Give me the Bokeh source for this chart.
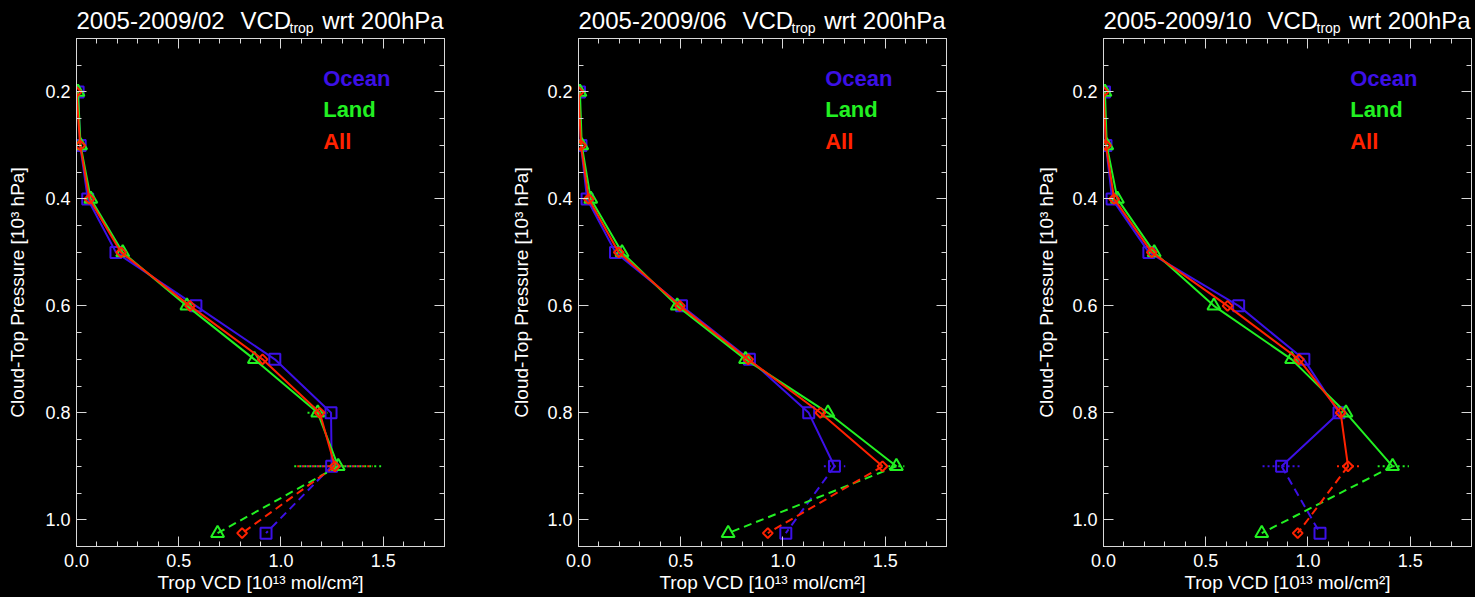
import math
from bokeh.plotting import figure
from bokeh.models import (Range1d, LinearAxis, FixedTicker, PrintfTickFormatter,
                          Label, GlobalInlineStyleSheet)
from bokeh.layouts import row, column
from bokeh.core.properties import value
from bokeh.embed import file_html
from bokeh.resources import INLINE

# ---------------- data ----------------
MONTHS = ["02", "06", "10"]
PRESSURE = [0.2, 0.3, 0.4, 0.5, 0.6, 0.7, 0.8, 0.9]   # 10^3 hPa
PRESSURE_BOTTOM = 1.025

OCEAN_02 = [0.008, 0.018, 0.055, 0.193, 0.584, 0.97, 1.245, 1.248]
LAND_02 = [0.007, 0.02, 0.07, 0.226, 0.54, 0.87, 1.18, 1.28]
ALL_02 = [0.0, 0.018, 0.063, 0.218, 0.555, 0.91, 1.19, 1.264]
BOTTOM_02 = {"Ocean": 0.927, "Land": 0.69, "All": 0.81}

OCEAN_06 = [0.005, 0.012, 0.042, 0.181, 0.504, 0.836, 1.126, 1.252]
LAND_06 = [0.007, 0.016, 0.06, 0.213, 0.483, 0.817, 1.22, 1.555]
ALL_06 = [0.0, 0.012, 0.05, 0.197, 0.496, 0.83, 1.183, 1.487]
BOTTOM_06 = {"Ocean": 1.014, "Land": 0.732, "All": 0.926}

OCEAN_10 = [0.005, 0.012, 0.042, 0.222, 0.661, 0.98, 1.152, 0.871]
LAND_10 = [0.007, 0.016, 0.068, 0.248, 0.54, 0.92, 1.186, 1.414]
ALL_10 = [0.0, 0.012, 0.052, 0.236, 0.607, 0.956, 1.16, 1.196]
BOTTOM_10 = {"Ocean": 1.059, "Land": 0.774, "All": 0.95}

# horizontal (dotted) error ranges: [pressure, low, high]
ERR_02 = {"Ocean": [[0.9, 1.10, 1.40]], "Land": [[0.9, 1.065, 1.49], [0.8, 1.13, 1.23]],
          "All": [[0.9, 1.08, 1.45]]}
ERR_06 = {"Ocean": [[0.9, 1.20, 1.305]], "Land": [[0.9, 1.515, 1.594]], "All": []}
ERR_10 = {"Ocean": [[0.9, 0.778, 0.966]], "Land": [[0.9, 1.341, 1.494]],
          "All": [[0.9, 1.142, 1.25]]}

X_MAJOR = [0.0, 0.5, 1.0, 1.5]
X_MINOR = [round(0.1 * i, 2) for i in range(0, 19)]
Y_MAJOR = [0.2, 0.4, 0.6, 0.8, 1.0]
Y_MINOR = [round(0.1 + 0.05 * i, 3) for i in range(0, 20)]

SERIES = ["Ocean", "Land", "All"]
COLORS = {"Ocean": "#3c10e6", "Land": "#22f022", "All": "#ff2200"}

TITLE_DATE = "2005-2009/{m}"
TITLE_VCD = "VCD"
TITLE_SUB = "trop"
TITLE_TAIL = "wrt 200hPa"
XLABEL = "Trop VCD [10¹³ mol/cm²]"
YLABEL = "Cloud-Top Pressure [10³ hPa]"

PANELS = [
    ("02", {"Ocean": OCEAN_02, "Land": LAND_02, "All": ALL_02}, BOTTOM_02, ERR_02),
    ("06", {"Ocean": OCEAN_06, "Land": LAND_06, "All": ALL_06}, BOTTOM_06, ERR_06),
    ("10", {"Ocean": OCEAN_10, "Land": LAND_10, "All": ALL_10}, BOTTOM_10, ERR_10),
]

# ---------------- layout ----------------
FW, FH = 368, 508
HEAD_H = 38
X0, X1 = 0.0, 1.8
YB, YT = 1.05, 0.1
PXX = FW / (X1 - X0)
PXY = FH / (YB - YT)
BORDERS = [(76, 56), (78, 80), (77, 3)]
YLABEL_STANDOFF = [14, 12, 12]
FONT = "Liberation Sans"
AX_COLOR = "#d8d8d8"
TXT = "#ffffff"
TOTAL_W = sum(l + FW + r for l, r in BORDERS)
BASE_SHIFT = 0.35   # alphabetic-baseline correction (em)


def style_axis(ax, major, minor, labels):
    ax.ticker = FixedTicker(ticks=major, minor_ticks=minor)
    ax.axis_line_color = AX_COLOR
    ax.axis_line_width = 1
    ax.major_tick_line_color = AX_COLOR
    ax.minor_tick_line_color = AX_COLOR
    ax.major_tick_in = 10
    ax.major_tick_out = 0
    ax.minor_tick_in = 5
    ax.minor_tick_out = 0
    ax.major_label_text_font = FONT
    ax.major_label_text_color = TXT
    ax.axis_label_text_font = FONT
    ax.axis_label_text_font_size = "19px"
    ax.axis_label_text_font_style = "normal"
    ax.axis_label_text_color = TXT
    if labels:
        ax.formatter = PrintfTickFormatter(format="%.1f")
        ax.major_label_text_font_size = "18px"
    else:
        ax.formatter = PrintfTickFormatter(format="")
        ax.major_label_text_font_size = "0px"
        ax.major_label_standoff = 0


# header strip holding the panel titles
head = figure(frame_width=TOTAL_W, frame_height=HEAD_H, x_range=Range1d(0, TOTAL_W),
              y_range=Range1d(HEAD_H, 0), output_backend="svg", toolbar_location=None,
              min_border=0, x_axis_location=None, y_axis_location=None,
              background_fill_color="#000000", border_fill_color="#000000",
              outline_line_color=None)
head.grid.visible = False

figs = []
left_edge = 0
for i, (month, vals, bottom, errs) in enumerate(PANELS):
    bl, br = BORDERS[i]
    fl = left_edge + bl
    left_edge += bl + FW + br

    yb = 28 - BASE_SHIFT * 24
    head.text(x=[fl, fl + 164, fl + 245.7], y=[yb, yb, yb],
              text=[TITLE_DATE.format(m=month), TITLE_VCD, TITLE_TAIL],
              text_font=value(FONT), text_font_size=value("24px"), text_color=TXT,
              text_baseline="alphabetic", text_align="left")
    head.text(x=[fl + 213], y=[32.5 - BASE_SHIFT * 14], text=[TITLE_SUB],
              text_font=value(FONT), text_font_size=value("14px"), text_color=TXT,
              text_baseline="alphabetic", text_align="left")

    p = figure(frame_width=FW, frame_height=FH, x_range=Range1d(X0, X1),
               y_range=Range1d(YB, YT), output_backend="svg", toolbar_location=None,
               min_border_left=bl, min_border_right=br, min_border_top=0,
               min_border_bottom=51, background_fill_color="#000000",
               border_fill_color="#000000", outline_line_color=AX_COLOR)
    p.grid.visible = False
    style_axis(p.xaxis[0], X_MAJOR, X_MINOR, True)
    p.xaxis[0].major_label_standoff = 7
    p.xaxis[0].axis_label = XLABEL
    p.xaxis[0].axis_label_standoff = 2
    style_axis(p.yaxis[0], Y_MAJOR, Y_MINOR, True)
    p.yaxis[0].major_label_standoff = 6
    p.yaxis[0].axis_label = YLABEL
    p.yaxis[0].axis_label_standoff = YLABEL_STANDOFF[i]
    top = LinearAxis()
    style_axis(top, X_MAJOR, X_MINOR, False)
    p.add_layout(top, "above")
    right = LinearAxis()
    style_axis(right, Y_MAJOR, Y_MINOR, False)
    p.add_layout(right, "right")

    # error bars (dotted)
    for s in SERIES:
        e = errs[s]
        if e:
            p.segment(x0=[r[1] for r in e], y0=[r[0] for r in e],
                      x1=[r[2] for r in e], y1=[r[0] for r in e],
                      line_color=COLORS[s], line_width=2, line_dash="2 3")

    for s in SERIES:
        c = COLORS[s]
        xs = vals[s]
        p.line(xs, PRESSURE, line_color=c, line_width=2)
        p.line([xs[-1], bottom[s]], [PRESSURE[-1], PRESSURE_BOTTOM],
               line_color=c, line_width=2, line_dash="8 5")
        mx = xs + [bottom[s]]
        my = PRESSURE + [PRESSURE_BOTTOM]
        if s == "Ocean":
            p.scatter(mx, my, marker="square", size=11, fill_color=None,
                      line_color=c, line_width=2)
        elif s == "Land":
            p.scatter(mx, my, marker="triangle", size=13, fill_color=None,
                      line_color=c, line_width=2)
        else:
            p.scatter(mx, my, marker="square", angle=math.pi / 4, size=7,
                      fill_color=None, line_color=c, line_width=2)

    # legend text
    for s, dy in zip(SERIES, [48, 79, 111]):
        p.add_layout(Label(x=246.7 / PXX, y=YT + (dy - BASE_SHIFT * 22) / PXY, text=s,
                           text_font=FONT, text_font_size="22px",
                           text_font_style="bold", text_color=COLORS[s],
                           text_baseline="alphabetic", text_align="left"))
    figs.append(p)

layout = column(head, row(*figs),
                stylesheets=[GlobalInlineStyleSheet(css="body { background-color: #000000; }")])

open("out.html", "w").write(file_html(layout, INLINE))
